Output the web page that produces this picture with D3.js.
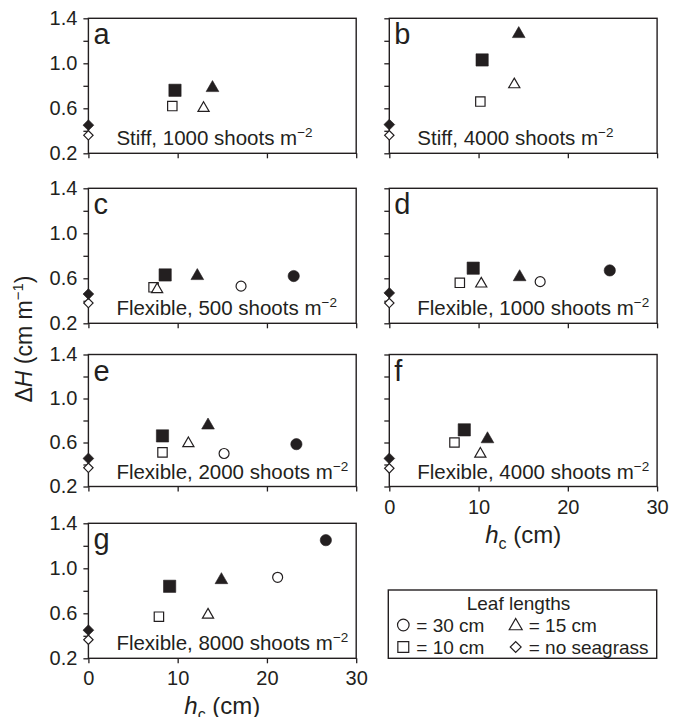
<!DOCTYPE html>
<html>
<head>
<meta charset="utf-8">
<script src="https://cdn.jsdelivr.net/npm/d3@7"></script>
<style>
body { margin: 0; background: #fff; }
text { font-family: "Liberation Sans", Arial, Helvetica, sans-serif; fill: #231f20; }
</style>
</head>
<body>
<script>
// panels and their captions
var panelIds = ["a", "b", "c", "d", "e", "f", "g"];
var canopyType = ["Stiff", "Stiff", "Flexible", "Flexible", "Flexible", "Flexible", "Flexible"];
var shootDensity = [1000, 4000, 500, 1000, 2000, 4000, 8000];

// [hc (cm), dH (cm m-1)] per panel, null = no run
var sq10Filled  = [[9.7, 0.76], [10.4, 1.03], [8.6, 0.63], [9.4, 0.69], [8.3, 0.66], [8.4, 0.715], [9.1, 0.84]];
var sq10Open    = [[9.4, 0.62], [10.2, 0.66], [7.3, 0.52], [7.9, 0.56], [8.3, 0.51], [7.3, 0.60], [7.9, 0.57]];
var tri15Filled = [[13.9, 0.79], [14.5, 1.27], [12.2, 0.63], [14.6, 0.62], [13.4, 0.765], [11.0, 0.64], [14.9, 0.905]];
var tri15Open   = [[12.9, 0.61], [14.0, 0.82], [7.7, 0.51], [10.3, 0.56], [11.2, 0.60], [10.2, 0.505], [13.4, 0.595]];
var circ30Filled = [null, null, [23.0, 0.62], [24.7, 0.67], [23.3, 0.585], null, [26.6, 1.25]];
var circ30Open   = [null, null, [17.1, 0.53], [16.9, 0.57], [15.2, 0.50], null, [21.2, 0.92]];
// no seagrass runs sit at hc = 0
var bareFilled = [0.45, 0.455, 0.46, 0.47, 0.455, 0.455, 0.45];
var bareOpen   = [0.36, 0.36, 0.38, 0.38, 0.37, 0.365, 0.365];

// axes
var xTicks = [0, 10, 20, 30];
var yTicks = [0.2, 0.4, 0.6, 0.8, 1.0, 1.2, 1.4];
var yLabelled = [0.2, 0.6, 1.0, 1.4];

// legend
var legendTitle = "Leaf lengths";
var legendItems = [["circle", "= 30 cm"], ["triangle", "= 15 cm"], ["square", "= 10 cm"], ["diamond", "= no seagrass"]];

// layout
var W = 680, H = 717;
var colX = [88.4, 389.3];
var panelW = 267.8;
var rowTop = [18.3, 188.3, 354.5, 523.3];
var rowH = [135, 135, 132, 135];
var ink = "#231f20";

var svg = d3.select(document.body).append("svg")
	.attr("width", W)
	.attr("height", H);

var symbols = {
	circle: d3.symbolCircle,
	square: d3.symbolSquare,
	triangle: d3.symbolTriangle,
	diamond: d3.symbolSquare
};

function drawMark(g, type, filled, x, y, scale) {
	var sizes = {
		circle: filled ? 100 : 78,
		square: filled ? 150 : 88,
		triangle: filled ? 70 : 54,
		diamond: filled ? 58 : 44
	};
	var s = sizes[type] * (scale || 1);
	var tf = "translate(" + x + "," + (type == "triangle" ? y + 1 : y) + ")";
	if (type == "diamond") tf += " rotate(45)";
	return g.append("path")
		.attr("d", d3.symbol().type(symbols[type]).size(s)())
		.attr("transform", tf)
		.attr("fill", filled ? ink : "#fff")
		.attr("stroke", ink)
		.attr("stroke-width", filled ? 0.6 : 1.2);
}

function drawPanel(i) {
	var row = Math.floor(i / 2), col = i % 2;
	var pLeft = colX[col], pTop = rowTop[row], pH = rowH[row];

	var x = d3.scaleLinear().domain([0, 30]).range([pLeft, pLeft + panelW]);
	var y = d3.scaleLinear().domain([0.2, 1.4]).range([pTop + pH, pTop]);

	var g = svg.append("g").attr("id", "panel-" + panelIds[i]);

	var yAxis = d3.axisLeft(y)
		.tickValues(yTicks)
		.tickSize(5)
		.tickPadding(6)
		.tickFormat(function (d) {
			if (col == 1) return "";
			return yLabelled.some(function (v) { return Math.abs(v - d) < 1e-6; }) ? d3.format(".1f")(d) : "";
		});
	var ya = g.append("g").attr("transform", "translate(" + pLeft + ",0)").call(yAxis);

	var showX = (i == 5 || i == 6);
	var xAxis = d3.axisBottom(x)
		.tickValues(xTicks)
		.tickSize(5)
		.tickPadding(8)
		.tickFormat(showX ? d3.format("d") : function () { return ""; });
	var xa = g.append("g").attr("transform", "translate(0," + (pTop + pH) + ")").call(xAxis);

	[ya, xa].forEach(function (a) {
		a.select(".domain").remove();
		a.selectAll("line").attr("stroke", ink).attr("stroke-width", 1.3);
		a.selectAll("text").attr("font-size", 20).attr("fill", ink)
			.style("font-family", "'Liberation Sans', Arial, Helvetica, sans-serif");
	});

	g.append("rect")
		.attr("x", pLeft)
		.attr("y", pTop)
		.attr("width", panelW)
		.attr("height", pH)
		.attr("fill", "none")
		.attr("stroke", ink)
		.attr("stroke-width", 1.4);

	// panel letter
	g.append("text")
		.attr("x", pLeft + 5)
		.attr("y", pTop + 26)
		.attr("font-size", 29)
		.text(panelIds[i]);

	// caption
	var cap = g.append("text")
		.attr("x", pLeft + 28)
		.attr("y", pTop + pH - 8)
		.attr("font-size", 20.5);
	cap.append("tspan").text(canopyType[i] + ", " + shootDensity[i] + " shoots m");
	cap.append("tspan").attr("dy", -8).attr("font-size", 13.5).text("\u22122");

	// data marks: open first, filled on top
	var series = [
		["square", false, sq10Open[i]],
		["triangle", false, tri15Open[i]],
		["circle", false, circ30Open[i]],
		["square", true, sq10Filled[i]],
		["triangle", true, tri15Filled[i]],
		["circle", true, circ30Filled[i]],
		["diamond", false, [0, bareOpen[i]]],
		["diamond", true, [0, bareFilled[i]]]
	];
	series.forEach(function (s) {
		if (!s[2]) return;
		drawMark(g, s[0], s[1], x(s[2][0]), y(s[2][1]));
	});

	// x title under f and g
	if (showX) {
		var xt = g.append("text")
			.attr("x", pLeft + panelW / 2)
			.attr("y", pTop + pH + 56)
			.attr("text-anchor", "middle")
			.attr("font-size", 24);
		xt.append("tspan").attr("font-style", "italic").text("h");
		xt.append("tspan").attr("font-size", 16).attr("dy", 6).text("c");
		xt.append("tspan").attr("dy", -6).text(" (cm)");
	}
}

for (var i = 0; i < panelIds.length; i++) drawPanel(i);

// y title
var yt = svg.append("text")
	.attr("transform", "translate(32,339) rotate(-90)")
	.attr("text-anchor", "middle")
	.attr("font-size", 23);
yt.append("tspan").text("\u0394");
yt.append("tspan").attr("font-style", "italic").text("H");
yt.append("tspan").text(" (cm m");
yt.append("tspan").attr("font-size", 15).attr("dy", -9).text("\u22121");
yt.append("tspan").attr("dy", 9).text(")");

// legend
var lg = svg.append("g").attr("id", "legend");
var lx = 388.3, ly = 590, lw = 268.4, lh = 68.3;
lg.append("rect")
	.attr("x", lx).attr("y", ly)
	.attr("width", lw).attr("height", lh)
	.attr("fill", "none")
	.attr("stroke", ink)
	.attr("stroke-width", 1.4);
lg.append("text")
	.attr("x", lx + lw / 2 - 4)
	.attr("y", ly + 20)
	.attr("text-anchor", "middle")
	.attr("font-size", 19)
	.text(legendTitle);
legendItems.forEach(function (it, k) {
	var cx = lx + 15 + (k % 2) * 112.4;
	var cy = ly + 35 + Math.floor(k / 2) * 22;
	drawMark(lg, it[0], false, cx, cy, 1.35);
	lg.append("text")
		.attr("x", cx + 13)
		.attr("y", cy + 7)
		.attr("font-size", 19)
		.text(it[1]);
});
</script>
</body>
</html>
